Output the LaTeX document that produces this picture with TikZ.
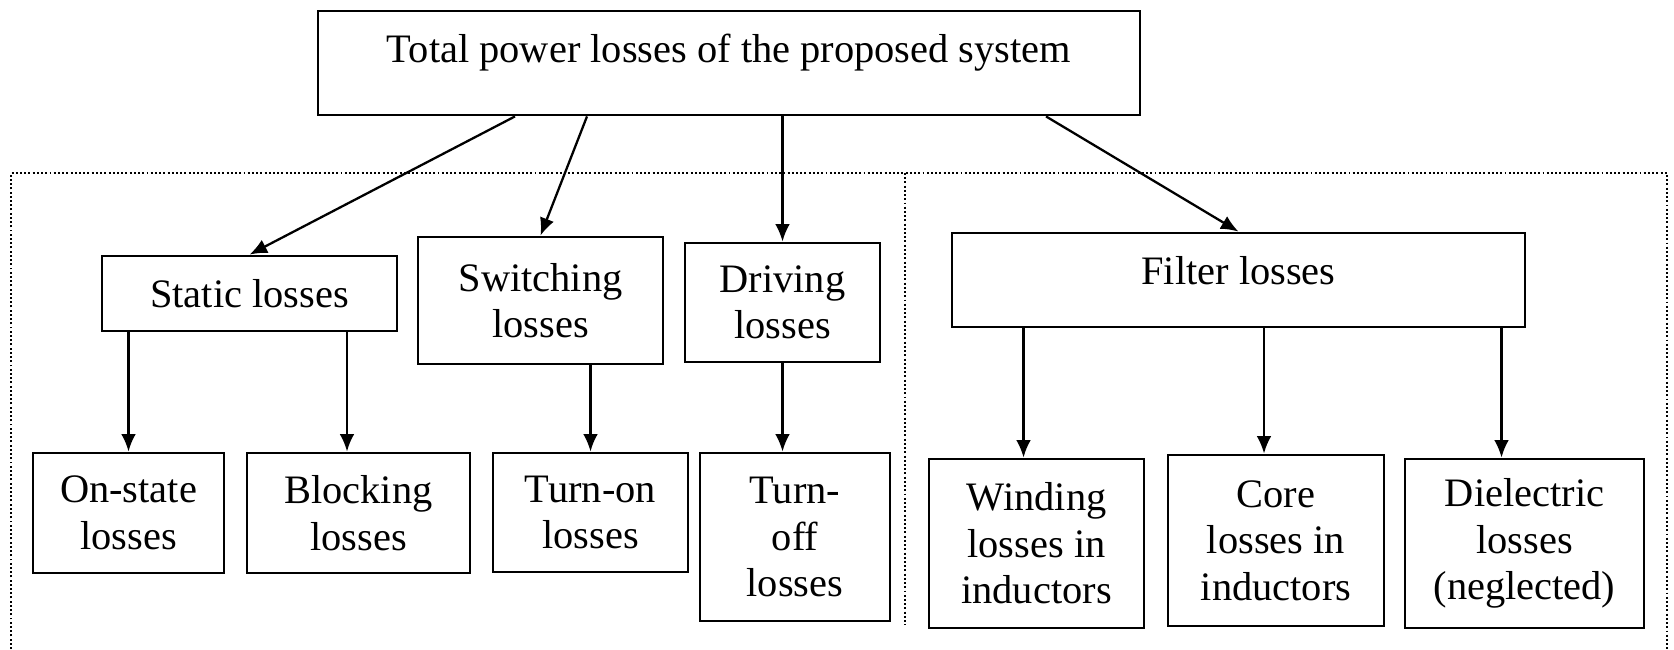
\documentclass[tikz,border=0pt]{standalone}
\usepackage{fontspec}
\setmainfont{Liberation Serif}
\usepackage{tikz}
\usetikzlibrary{arrows.meta,positioning,calc}

\tikzset{
  lossbox/.style={draw, line width=0.8pt, align=center, inner sep=1pt},
  arr/.style={-{Latex[length=5pt,width=4.2pt]}, line width=0.65pt},
  frame/.style={dash pattern=on 0.55pt off 0.65pt, line width=0.6pt}
}

\begin{document}
\begin{tikzpicture}[font=\fontsize{11.5}{13.2}\selectfont]
  \useasboundingbox (0,0) rectangle (16.74,-6.49);

  % top level
  \node[lossbox, minimum width=8.22cm, minimum height=1.04cm, text depth=0.3cm] (total) at (7.29,-0.63)
    {Total power losses of the proposed system};

  % second row
  \node[lossbox, minimum width=2.95cm, minimum height=0.75cm] (static) at (2.495,-2.935) {Static losses};
  \node[lossbox, minimum width=2.45cm, minimum height=1.27cm] (switching) at (5.405,-3.005) {Switching\\losses};
  \node[lossbox, minimum width=1.95cm, minimum height=1.19cm] (driving) at (7.825,-3.025) {Driving\\losses};
  \node[lossbox, minimum width=5.73cm, minimum height=0.94cm, text depth=0.2cm] (filter) at (12.385,-2.80) {Filter losses};

  % third row
  \node[lossbox, minimum width=1.91cm, minimum height=1.20cm] (onstate) at (1.285,-5.13) {On-state\\losses};
  \node[lossbox, minimum width=2.23cm, minimum height=1.20cm] (blocking) at (3.585,-5.13) {Blocking\\losses};
  \node[lossbox, minimum width=1.95cm, minimum height=1.19cm] (turnon) at (5.905,-5.125) {Turn-on\\losses};
  \node[lossbox, minimum width=1.90cm, minimum height=1.68cm] (turnoff) at (7.95,-5.37) {Turn-\\off\\losses};
  \node[lossbox, minimum width=2.15cm, minimum height=1.69cm] (winding) at (10.365,-5.435) {Winding\\losses in\\inductors};
  \node[lossbox, minimum width=2.16cm, minimum height=1.71cm] (core) at (12.76,-5.405) {Core\\losses in\\inductors};
  \node[lossbox, minimum width=2.39cm, minimum height=1.69cm] (dielectric) at (15.245,-5.435) {Dielectric\\losses\\(neglected)};

  % grouping frame
  \coordinate (fbl) at (0.11,-6.49);
  \coordinate (ftl) at (0.11,-1.73);
  \coordinate (ftr) at (16.67,-1.73);
  \coordinate (fbr) at (16.67,-6.49);
  \coordinate (dtop) at (9.05,-1.73);
  \coordinate (dbot) at (9.05,-6.25);
  \draw[frame] (fbl) -- (ftl) -- (ftr) -- (fbr);
  \draw[frame] (dtop) -- (dbot);

  % branches
  \draw[arr] ([xshift=-2.14cm]total.south) -- (static.north);
  \draw[arr] ([xshift=-1.42cm]total.south) -- (switching.north);
  \draw[arr] (total.south -| driving.north) -- (driving.north);
  \draw[arr] ([xshift=3.17cm]total.south) -- (filter.north);

  \draw[arr] (static.south -| onstate.north) -- (onstate.north);
  \draw[arr] ([xshift=-1.15mm]blocking.north |- static.south) -- ([xshift=-1.15mm]blocking.north);
  \draw[arr] (turnon.north |- switching.south) -- (turnon.north);
  \draw[arr] (driving.south) -- (driving.south |- turnoff.north);
  \draw[arr] ([xshift=-1.3mm]winding.north |- filter.south) -- ([xshift=-1.3mm]winding.north);
  \draw[arr] ([xshift=-1.2mm]core.north |- filter.south) -- ([xshift=-1.2mm]core.north);
  \draw[arr] ([xshift=-2.3mm]dielectric.north |- filter.south) -- ([xshift=-2.3mm]dielectric.north);
\end{tikzpicture}
\end{document}
